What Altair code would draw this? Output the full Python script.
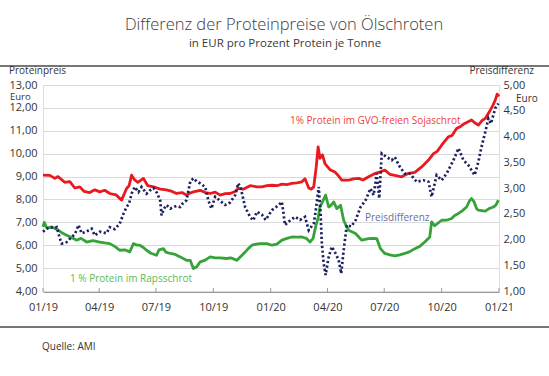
import altair as alt
import pandas as pd

# ---------------- data ----------------
soja_dates = ["2019-01-01","2019-01-12","2019-01-20","2019-01-25","2019-02-05","2019-02-13","2019-02-21","2019-03-01","2019-03-08","2019-03-17","2019-03-25","2019-04-02","2019-04-10","2019-04-18","2019-04-28","2019-05-07","2019-05-15","2019-05-19","2019-05-23","2019-05-28","2019-06-02","2019-06-11","2019-06-18","2019-06-27","2019-07-08","2019-07-18","2019-07-27","2019-08-03","2019-08-12","2019-08-19","2019-08-25","2019-08-30","2019-09-10","2019-09-18","2019-09-26","2019-10-04","2019-10-12","2019-10-20","2019-10-28","2019-11-05","2019-11-10","2019-11-18","2019-11-29","2019-12-10","2019-12-18","2019-12-26","2020-01-03","2020-01-11","2020-01-19","2020-01-27","2020-02-04","2020-02-12","2020-02-20","2020-02-25","2020-03-02","2020-03-06","2020-03-10","2020-03-14","2020-03-17","2020-03-20","2020-03-24","2020-03-28","2020-04-05","2020-04-13","2020-04-18","2020-04-24","2020-05-05","2020-05-12","2020-05-21","2020-05-28","2020-06-06","2020-06-17","2020-06-24","2020-07-02","2020-07-10","2020-07-18","2020-07-29","2020-08-09","2020-08-19","2020-08-30","2020-09-10","2020-09-18","2020-09-24","2020-10-01","2020-10-12","2020-10-18","2020-10-25","2020-11-01","2020-11-07","2020-11-18","2020-11-23","2020-11-29","2020-12-05","2020-12-10","2020-12-18","2020-12-22","2020-12-26","2020-12-29","2021-01-01"]
soja_vals = [9.06,9.05,8.92,9.0,8.75,8.78,8.5,8.55,8.35,8.3,8.42,8.33,8.4,8.26,8.2,7.97,8.48,8.6,9.06,8.85,8.75,8.92,8.6,8.55,8.45,8.42,8.35,8.26,8.3,8.19,8.28,8.33,8.4,8.3,8.26,8.32,8.19,8.25,8.26,8.35,8.48,8.45,8.6,8.55,8.55,8.6,8.62,8.6,8.67,8.65,8.7,8.72,8.77,8.9,8.5,8.45,8.55,9.42,10.3,9.8,9.95,9.57,9.3,9.2,9.05,8.84,8.84,8.9,8.92,8.85,8.99,9.14,9.2,9.28,9.1,9.05,8.99,9.14,9.18,9.42,9.72,10.0,10.1,10.37,10.74,10.8,11.1,11.2,11.32,11.47,11.35,11.25,11.45,11.54,11.9,12.1,12.34,12.6,12.5]

raps_dates = ["2019-01-01","2019-01-03","2019-01-07","2019-01-15","2019-01-26","2019-01-31","2019-02-08","2019-02-15","2019-02-24","2019-03-03","2019-03-12","2019-03-22","2019-04-02","2019-04-10","2019-04-18","2019-04-26","2019-05-04","2019-05-12","2019-05-20","2019-05-26","2019-06-01","2019-06-05","2019-06-11","2019-06-16","2019-06-23","2019-07-02","2019-07-06","2019-07-13","2019-07-17","2019-07-24","2019-08-01","2019-08-09","2019-08-19","2019-08-25","2019-08-30","2019-09-04","2019-09-10","2019-09-18","2019-09-26","2019-10-04","2019-10-12","2019-10-22","2019-10-29","2019-11-08","2019-11-16","2019-11-21","2019-11-26","2019-12-02","2019-12-09","2019-12-15","2019-12-26","2020-01-03","2020-01-11","2020-01-19","2020-01-27","2020-02-04","2020-02-12","2020-02-20","2020-02-27","2020-03-04","2020-03-09","2020-03-13","2020-03-17","2020-03-20","2020-03-25","2020-03-29","2020-04-03","2020-04-07","2020-04-11","2020-04-16","2020-04-22","2020-04-27","2020-05-01","2020-05-05","2020-05-16","2020-05-26","2020-06-06","2020-06-13","2020-06-19","2020-06-25","2020-07-02","2020-07-10","2020-07-18","2020-07-26","2020-08-03","2020-08-11","2020-08-19","2020-08-27","2020-09-04","2020-09-12","2020-09-15","2020-09-20","2020-10-01","2020-10-10","2020-10-17","2020-10-22","2020-10-28","2020-11-03","2020-11-10","2020-11-15","2020-11-18","2020-11-22","2020-11-26","2020-11-29","2020-12-10","2020-12-16","2020-12-23","2020-12-27","2020-12-31"]
raps_vals = [6.8,7.0,6.75,6.8,6.65,6.55,6.44,6.35,6.22,6.3,6.14,6.2,6.14,6.1,6.07,5.95,5.78,5.8,5.71,6.07,6.0,6.0,5.9,5.78,5.65,5.56,5.8,5.85,5.7,5.64,5.6,5.49,5.34,5.34,4.98,5.05,5.27,5.35,5.49,5.45,5.45,5.42,5.45,5.34,5.56,5.7,5.85,6.0,6.05,6.07,6.07,6.0,6.05,6.22,6.3,6.36,6.35,6.36,6.3,6.14,6.3,6.8,7.2,7.67,7.95,8.19,7.67,7.75,7.89,7.6,7.75,7.09,6.85,6.65,6.51,6.22,6.29,6.3,6.29,5.85,5.64,5.58,5.53,5.58,5.64,5.72,5.85,5.95,6.14,6.36,7.02,6.85,7.09,7.1,7.17,7.3,7.39,7.5,7.67,7.95,8.04,7.9,7.6,7.53,7.49,7.6,7.67,7.75,7.97]

diff_dates = ["2019-01-01","2019-01-06","2019-01-12","2019-01-20","2019-01-23","2019-01-28","2019-01-31","2019-02-08","2019-02-16","2019-02-21","2019-02-27","2019-03-04","2019-03-11","2019-03-20","2019-03-25","2019-04-02","2019-04-13","2019-04-18","2019-04-26","2019-05-04","2019-05-10","2019-05-15","2019-05-19","2019-05-23","2019-05-28","2019-06-03","2019-06-08","2019-06-16","2019-06-21","2019-06-27","2019-07-03","2019-07-08","2019-07-10","2019-07-14","2019-07-18","2019-07-24","2019-07-29","2019-08-03","2019-08-09","2019-08-13","2019-08-19","2019-08-25","2019-08-30","2019-09-05","2019-09-10","2019-09-18","2019-09-23","2019-09-28","2019-10-04","2019-10-12","2019-10-20","2019-10-28","2019-11-05","2019-11-10","2019-11-14","2019-11-21","2019-11-29","2019-12-04","2019-12-10","2019-12-18","2019-12-24","2020-01-03","2020-01-14","2020-01-19","2020-01-24","2020-02-01","2020-02-09","2020-02-17","2020-02-25","2020-03-02","2020-03-10","2020-03-14","2020-03-18","2020-03-21","2020-03-23","2020-03-26","2020-03-29","2020-04-03","2020-04-08","2020-04-14","2020-04-19","2020-04-23","2020-04-27","2020-05-02","2020-05-09","2020-05-16","2020-05-24","2020-06-01","2020-06-09","2020-06-14","2020-06-19","2020-06-23","2020-06-27","2020-07-05","2020-07-13","2020-07-18","2020-07-26","2020-08-03","2020-08-11","2020-08-22","2020-09-02","2020-09-10","2020-09-15","2020-09-23","2020-10-01","2020-10-09","2020-10-20","2020-10-28","2020-11-05","2020-11-13","2020-11-23","2020-11-29","2020-12-04","2020-12-10","2020-12-15","2020-12-19","2020-12-26","2020-12-31"]
diff_vals = [2.15,2.2,2.24,2.22,2.24,2.02,1.92,1.95,2.05,2.1,2.28,2.12,2.15,2.21,2.08,2.15,2.12,2.24,2.2,2.31,2.5,2.63,2.7,2.89,3.02,2.92,3.02,2.89,2.95,3.0,2.9,2.75,2.47,2.6,2.67,2.6,2.63,2.65,2.63,2.7,2.76,3.12,3.19,3.12,3.09,3.02,2.76,2.6,2.83,2.75,2.67,2.72,2.86,3.09,3.0,2.63,2.44,2.37,2.54,2.48,2.38,2.57,2.67,2.73,2.28,2.37,2.44,2.38,2.44,2.18,2.31,2.63,3.02,2.5,1.92,1.53,1.31,1.66,1.86,1.73,1.6,1.34,1.79,2.28,2.25,2.37,2.63,2.76,2.99,2.86,3.28,2.8,3.67,3.6,3.54,3.6,3.41,3.28,3.28,3.12,3.15,3.12,2.83,3.25,3.15,3.28,3.54,3.77,3.54,3.44,3.25,3.51,3.8,4.09,4.35,4.25,4.55,4.64]

left_ticks = [4, 5, 6, 7, 8, 9, 10, 11, 12, 13]
right_ticks = [1.0, 1.5, 2.0, 2.5, 3.0, 3.5, 4.0, 4.5, 5.0]
quarter_dates = ["2019-01-01", "2019-04-01", "2019-07-01", "2019-10-01", "2020-01-01",
                 "2020-04-01", "2020-07-01", "2020-10-01", "2021-01-01"]

# ---------------- chart ----------------
FONT = "Open Sans"
W, H = 456, 206
TXT = "#333333"
AXIS_GREY = "#9a9a9a"

prices = pd.DataFrame({
    "date": soja_dates + raps_dates,
    "value": soja_vals + raps_vals,
    "series": ["Soja"] * len(soja_dates) + ["Raps"] * len(raps_dates),
})
diff = pd.DataFrame({"date": diff_dates, "value": diff_vals})
quarters = pd.DataFrame({"date": quarter_dates})

x_enc = alt.X(
    "date:T",
    scale=alt.Scale(type="utc", domain=[quarter_dates[0], quarter_dates[-1]]),
    axis=alt.Axis(
        values=[alt.DateTime(year=int(d[:4]), month=int(d[5:7]), date=1, utc=True)
                for d in quarter_dates],
        labelExpr="utcFormat(datum.value, '%m/%y')",
        title=None, grid=False, domainColor=AXIS_GREY, ticks=False, offset=1,
        labelPadding=9, labelFlush=False, labelOverlap=False,
        labelFontSize=11, labelColor=TXT, labelFont=FONT,
    ),
)

lines = alt.Chart(prices).mark_line(strokeWidth=2.8, strokeJoin="round").encode(
    x=x_enc,
    y=alt.Y("value:Q",
            scale=alt.Scale(domain=[4, 13], nice=False, zero=False),
            axis=alt.Axis(orient="left", values=left_ticks, title=None,
                          labelExpr="replace(format(datum.value, '.2f'), '.', ',')",
                          grid=True, gridColor="#dadada", gridWidth=1,
                          domain=False, ticks=False, labelPadding=6,
                          labelFontSize=11, labelColor=TXT, labelFont=FONT)),
    color=alt.Color("series:N", scale=alt.Scale(domain=["Soja", "Raps"],
                                                range=["#e8191f", "#36a33a"]), legend=None),
    detail="series:N",
)

diff_line = alt.Chart(diff).mark_line(strokeWidth=2.7, strokeDash=[2.2, 2.4],
                                      color="#1c2260").encode(
    x=alt.X("date:T"),
    y=alt.Y("value:Q",
            scale=alt.Scale(domain=[1, 5], nice=False, zero=False),
            axis=alt.Axis(orient="right", values=right_ticks, title=None,
                          labelExpr="replace(format(datum.value, '.2f'), '.', ',')",
                          grid=False, domain=False, ticks=False, labelPadding=4,
                          labelFontSize=11, labelColor=TXT, labelFont=FONT)),
)

# small upward ticks on the time axis, placed by the time scale
qticks = alt.Chart(quarters).mark_rule(color=AXIS_GREY, strokeWidth=1).encode(
    x=alt.X("date:T"), y=alt.value(H + 1), y2=alt.value(H - 3))

one = pd.DataFrame({"k": [0]})


def label(text, x, y, size=10.5, color=TXT, align="left", baseline="middle", weight=400):
    return alt.Chart(one).mark_text(
        text=text, align=align, baseline=baseline, font=FONT, fontSize=size,
        color=color, fontWeight=weight,
    ).encode(x=alt.value(x), y=alt.value(y))


def hline(y):
    return alt.Chart(one).mark_rule(color="#4a4a4a", strokeWidth=1.5).encode(
        x=alt.value(-43), x2=alt.value(W + 50), y=alt.value(y))


texts = [
    label("Differenz der Proteinpreise von Ölschroten", 241, -55, size=16.5,
          color="#3a3a3a", align="center", baseline="alphabetic", weight=300),
    label("in EUR pro Prozent Protein je Tonne", 242, -38, size=11.5,
          color="#3a3a3a", align="center", baseline="alphabetic"),
    label("Proteinpreis", -34, -14, size=10),
    label("Euro", -33, 11.5, size=9.5),
    label("Preisdifferenz", W + 35, -14, size=10, align="right"),
    label("Euro", W + 17, 14, size=10),
    label("1% Protein im GVO-freien Sojaschrot", 247, 36, size=10, color="#ee3f3a"),
    label("Preisdifferenz", 322, 132.5, size=10, color="#6c6e99"),
    label("1 % Protein im Rapsschrot", 27, 194, size=10, color="#5cb957"),
    label("Quelle: AMI", -1, 261.5, size=10),
]

chart = alt.layer(
    lines, diff_line, qticks, hline(-19), hline(242), *texts
).resolve_scale(y="independent").properties(
    width=W, height=H,
    autosize=alt.AutoSizeParams(type="none"),
    padding={"left": 43, "top": 85, "right": 50, "bottom": 85},
).configure_view(stroke=None).configure(font=FONT)

chart.save("out.html", embed_options={"renderer": "svg", "actions": False})
